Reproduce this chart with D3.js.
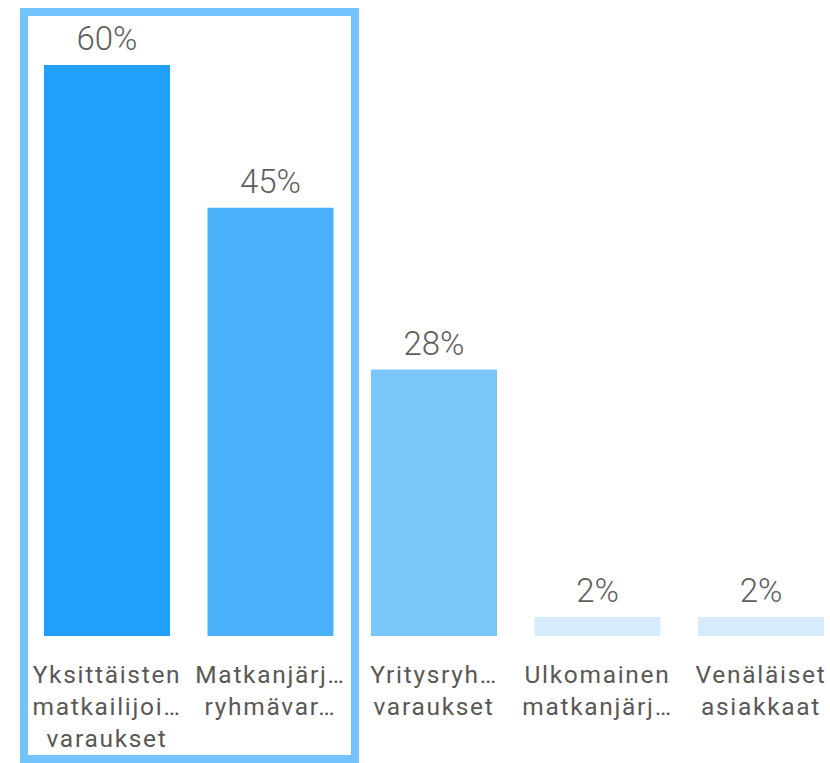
<!DOCTYPE html>
<html>
<head>
<meta charset="utf-8">
<script src="https://cdn.jsdelivr.net/npm/d3@7"></script>
<style>
  body { margin: 0; background: #fff; }
  .value-label { font-family: Roboto, sans-serif; font-weight: 300; font-size: 33px; fill: #605E5C; }
  .cat-label { font-family: Roboto, sans-serif; font-weight: 400; font-size: 24.5px; fill: #5A5856; letter-spacing: 1.7px; }
</style>
</head>
<body>
<div class="chart"></div>
<script>
var svgWidth = 830;
var svgHeight = 763;

// categories as they show on the axis (already wrapped/truncated)
var categories = ["Yksittäisten matkailijoi… varaukset", "Matkanjärj… ryhmävar…", "Yritysryh… varaukset", "Ulkomainen matkanjärj…", "Venäläiset asiakkaat"];
var labelLines = [
  ["Yksittäisten", "matkailijoi…", "varaukset"],
  ["Matkanjärj…", "ryhmävar…"],
  ["Yritysryh…", "varaukset"],
  ["Ulkomainen", "matkanjärj…"],
  ["Venäläiset", "asiakkaat"]
];
var values = [60, 45, 28, 2, 2];
var valueLabels = ["60%", "45%", "28%", "2%", "2%"];
var barColors = ["#21A0F9", "#4AB1FB", "#7AC5FA", "#D6ECFC", "#D6ECFC"];

var svg = d3.select(".chart")
  .append("svg")
  .attr("width", svgWidth)
  .attr("height", svgHeight);

var xBand = d3.scaleBand()
  .domain(categories)
  .range([25.25, 842.75])
  .paddingInner(0.2294)
  .paddingOuter(0.1147);

var yLinearScale = d3.scaleLinear()
  .domain([0, 60])
  .range([636, 65]);

// selection highlight around the first two columns
svg.append("rect")
  .attr("x", 24)
  .attr("y", 12)
  .attr("width", 331)
  .attr("height", 747)
  .attr("fill", "none")
  .attr("stroke", "#72C2FB")
  .attr("stroke-width", 8);

svg.selectAll(".bar")
  .data(values)
  .enter()
  .append("rect")
  .attr("class", "bar")
  .attr("x", function(d, i) { return xBand(categories[i]); })
  .attr("y", function(d) { return yLinearScale(d); })
  .attr("width", xBand.bandwidth())
  .attr("height", function(d) { return yLinearScale(0) - yLinearScale(d); })
  .attr("fill", function(d, i) { return barColors[i]; });

svg.selectAll(".value-label")
  .data(values)
  .enter()
  .append("text")
  .attr("class", "value-label")
  .attr("text-anchor", "middle")
  .attr("x", function(d, i) { return xBand(categories[i]) + xBand.bandwidth() / 2; })
  .attr("y", function(d) { return yLinearScale(d) - 15; })
  .text(function(d, i) { return valueLabels[i]; });

// category labels, one tspan per line
var catText = svg.selectAll(".cat-label")
  .data(categories)
  .enter()
  .append("text")
  .attr("class", "cat-label")
  .attr("text-anchor", "middle")
  .attr("x", function(d) { return xBand(d) + xBand.bandwidth() / 2; })
  .attr("y", 683);

catText.each(function(d, i) {
  var t = d3.select(this);
  var cx = xBand(d) + xBand.bandwidth() / 2;
  labelLines[i].forEach(function(line, j) {
    t.append("tspan")
      .attr("x", cx)
      .attr("y", 683 + j * 32)
      .text(line);
  });
});
</script>
</body>
</html>
